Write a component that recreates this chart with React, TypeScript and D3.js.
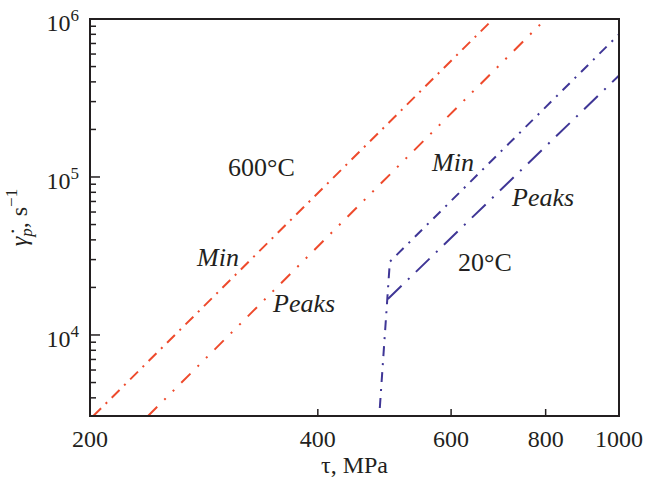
import React from "react";
import * as d3 from "d3";

// ---- data (tau in MPa, strain rate in 1/s) ----
const xTickValues = [200, 400, 600, 800, 1000];
const yMajorTicks = [1e4, 1e5, 1e6];
const yMajorLabels = ["4", "5", "6"];

const red600MinTau = [202, 682];
const red600MinRate = [3070, 1.0e6];
const red600PeaksTau = [238.6, 800];
const red600PeaksRate = [3070, 1.0e6];
const blue20MinTau = [483, 498, 1000];
const blue20MinRate = [3450, 29100, 8.0e5];
const blue20PeaksTau = [495, 1000];
const blue20PeaksRate = [16900, 4.39e5];

const W = 646;
const H = 481;
const M = { left: 90, right: 27, top: 19, bottom: 65 };

const RED = "#ee4a2c";
const BLUE = "#3f3696";
const INK = "#231f20";
const FONT = "Liberation Serif";

export default function App() {
  const x = d3.scaleLog().domain([200, 1000]).range([M.left, W - M.right]);
  const y = d3.scaleLog().domain([3070, 1e6]).range([H - M.bottom, M.top]);
  const line = d3
    .line<[number, number]>()
    .x((d) => x(d[0]))
    .y((d) => y(d[1]));
  const pts = (a: number[], b: number[]) => a.map((v, i) => [v, b[i]] as [number, number]);

  const minor: number[] = [];
  for (let e = 3; e <= 5; e++) for (let m = 2; m <= 9; m++) {
    const v = m * Math.pow(10, e);
    if (v >= 3070 && v <= 1e6) minor.push(v);
  }

  const x0 = M.left, x1 = W - M.right, y0 = M.top, y1 = H - M.bottom;

  const series = [
    { d: pts(red600MinTau, red600MinRate), c: RED, dash: "11,6.5,2,6.5" },
    { d: pts(red600PeaksTau, red600PeaksRate), c: RED, dash: "13,10,2,10,2,10" },
    { d: pts(blue20MinTau, blue20MinRate), c: BLUE, dash: "10,7,2,7" },
    { d: pts(blue20PeaksTau, blue20PeaksRate), c: BLUE, dash: "19,9,2,9" },
  ];

  const T = (p: any) => <text fontFamily={FONT} fill={INK} {...p} style={{ fontFamily: FONT }} />;

  return (
    <svg width={W} height={H} style={{ position: "absolute", left: 0, top: 0, background: "#fff" }}>
      <style>{`text, tspan { font-family: "Liberation Serif", serif !important; }`}</style>
      <defs>
        <clipPath id="plot">
          <rect x={x0} y={y0} width={x1 - x0} height={y1 - y0} />
        </clipPath>
      </defs>
      <g clipPath="url(#plot)">
        {series.map((s, i) => (
          <path key={i} d={line(s.d) || ""} fill="none" stroke={s.c} strokeWidth={2} strokeDasharray={s.dash} />
        ))}
      </g>
      {/* y ticks */}
      {minor.map((v) => (
        <line key={"m" + v} x1={x0} x2={x0 + 6} y1={y(v)} y2={y(v)} stroke={INK} strokeWidth={1.5} />
      ))}
      {yMajorTicks.map((v, i) => (
        <g key={"M" + v}>
          <line x1={x0} x2={x0 + 10} y1={y(v)} y2={y(v)} stroke={INK} strokeWidth={1.5} />
          <T x={79} y={y(v) + 12} textAnchor="end" fontSize={24}>
            10<tspan fontSize={17} dy={-10}>{yMajorLabels[i]}</tspan>
          </T>
        </g>
      ))}
      {/* x ticks */}
      {xTickValues.map((v) => (
        <g key={"x" + v}>
          <line x1={x(v)} x2={x(v)} y1={y1} y2={y1 - 7} stroke={INK} strokeWidth={1.5} />
          <T x={x(v)} y={y1 + 31} textAnchor="middle" fontSize={24}>{v}</T>
        </g>
      ))}
      {/* frame */}
      <rect x={x0} y={y0} width={x1 - x0} height={y1 - y0} fill="none" stroke={INK} strokeWidth={2} />
      {/* axis titles */}
      <T x={(x0 + x1) / 2} y={473} textAnchor="middle" fontSize={24}>τ, MPa</T>
      <T transform={`translate(27,${(y0 + y1) / 2}) rotate(-90)`} textAnchor="middle" fontSize={24}>
        <tspan fontStyle="italic">{"\u03B3\u0307"}</tspan>
        <tspan fontStyle="italic" fontSize={17} dy={5}>p</tspan>
        <tspan dy={-5}>, s</tspan>
        <tspan fontSize={17} dy={-10}>−1</tspan>
      </T>
      {/* annotations */}
      <T x={228} y={176} fontSize={26}>600°C</T>
      <T x={197} y={266} fontSize={26} fontStyle="italic">Min</T>
      <T x={273} y={312} fontSize={26} fontStyle="italic">Peaks</T>
      <T x={432} y={171} fontSize={26} fontStyle="italic">Min</T>
      <T x={512} y={206} fontSize={26} fontStyle="italic">Peaks</T>
      <T x={458} y={271} fontSize={26}>20°C</T>
    </svg>
  );
}
